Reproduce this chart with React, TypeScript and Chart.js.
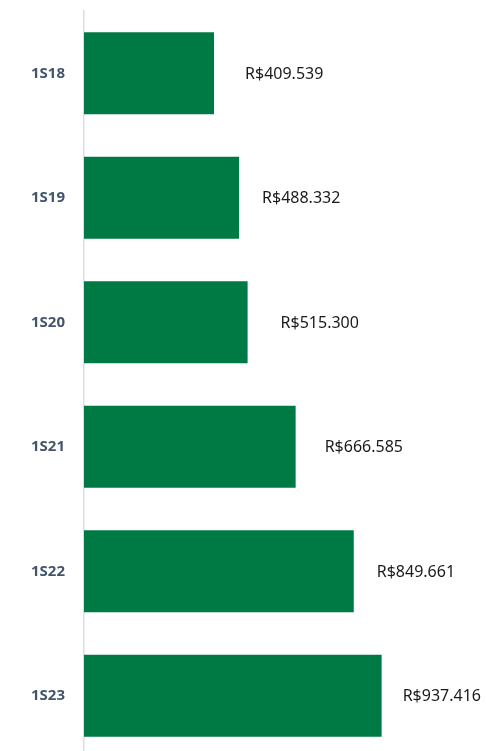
import React, { useEffect, useRef } from "react";
import { Chart, registerables } from "chart.js";

Chart.register(...registerables);

const categories = ["1S18", "1S19", "1S20", "1S21", "1S22", "1S23"];
const values = [409539, 488332, 515300, 666585, 849661, 937416];
const xMax = 1200000;

// style: horizontal gap between bar end and its value label (px)
const LABEL_GAPS = [31, 23, 33, 29, 23, 21];

const BAR_COLOR = "#007A45";
const CAT_COLOR = "#44546A";
const VALUE_COLOR = "#1A1A1A";
const AXIS_COLOR = "#D9DDE4";

function formatBRL(v: number): string {
  const s = Math.round(v).toString();
  const parts: string[] = [];
  for (let i = s.length; i > 0; i -= 3) {
    parts.unshift(s.substring(Math.max(0, i - 3), i));
  }
  return "R$" + parts.join(".");
}

const valueLabels = {
  id: "valueLabels",
  afterDatasetsDraw(chart: any) {
    const ctx = chart.ctx;
    const meta = chart.getDatasetMeta(0);
    ctx.save();
    ctx.font = "16px 'Noto Sans'";
    ctx.fillStyle = VALUE_COLOR;
    ctx.textAlign = "left";
    ctx.textBaseline = "middle";
    meta.data.forEach((bar: any, i: number) => {
      const v = chart.data.datasets[0].data[i] as number;
      ctx.fillText(formatBRL(v), bar.x + LABEL_GAPS[i], bar.y + 1);
    });
    ctx.restore();
  },
};

export default function App() {
  const ref = useRef<HTMLCanvasElement | null>(null);

  useEffect(() => {
    if (!ref.current) return;
    const chart = new Chart(ref.current, {
      type: "bar",
      data: {
        labels: categories,
        datasets: [
          {
            data: values,
            backgroundColor: BAR_COLOR,
            borderWidth: 0,
            barPercentage: 0.66,
            categoryPercentage: 1,
          },
        ],
      },
      options: {
        indexAxis: "y",
        animation: false,
        responsive: true,
        maintainAspectRatio: false,
        layout: { padding: { top: 11, bottom: 2, left: 0, right: 21 } },
        plugins: {
          legend: { display: false },
          tooltip: { enabled: false },
          title: { display: false },
        },
        scales: {
          x: {
            display: false,
            min: 0,
            max: xMax,
          },
          y: {
            afterFit: (axis: any) => {
              axis.width = 84;
              axis.paddingTop = 0;
              axis.paddingBottom = 0;
            },
            grid: { display: false, drawTicks: false },
            border: { display: true, color: AXIS_COLOR, width: 1.5 },
            ticks: {
              color: CAT_COLOR,
              padding: 19,
              font: { family: "'Noto Sans'", size: 15, weight: "bold" },
            },
          },
        },
      },
      plugins: [valueLabels],
    });
    return () => chart.destroy();
  }, []);

  return (
    <div
      style={{
        position: "absolute",
        top: 0,
        left: 0,
        width: 486,
        height: 751,
        overflow: "hidden",
        background: "#FFFFFF",
      }}
    >
      <div style={{ position: "relative", width: 486, height: 760 }}>
        <canvas ref={ref} />
      </div>
    </div>
  );
}
